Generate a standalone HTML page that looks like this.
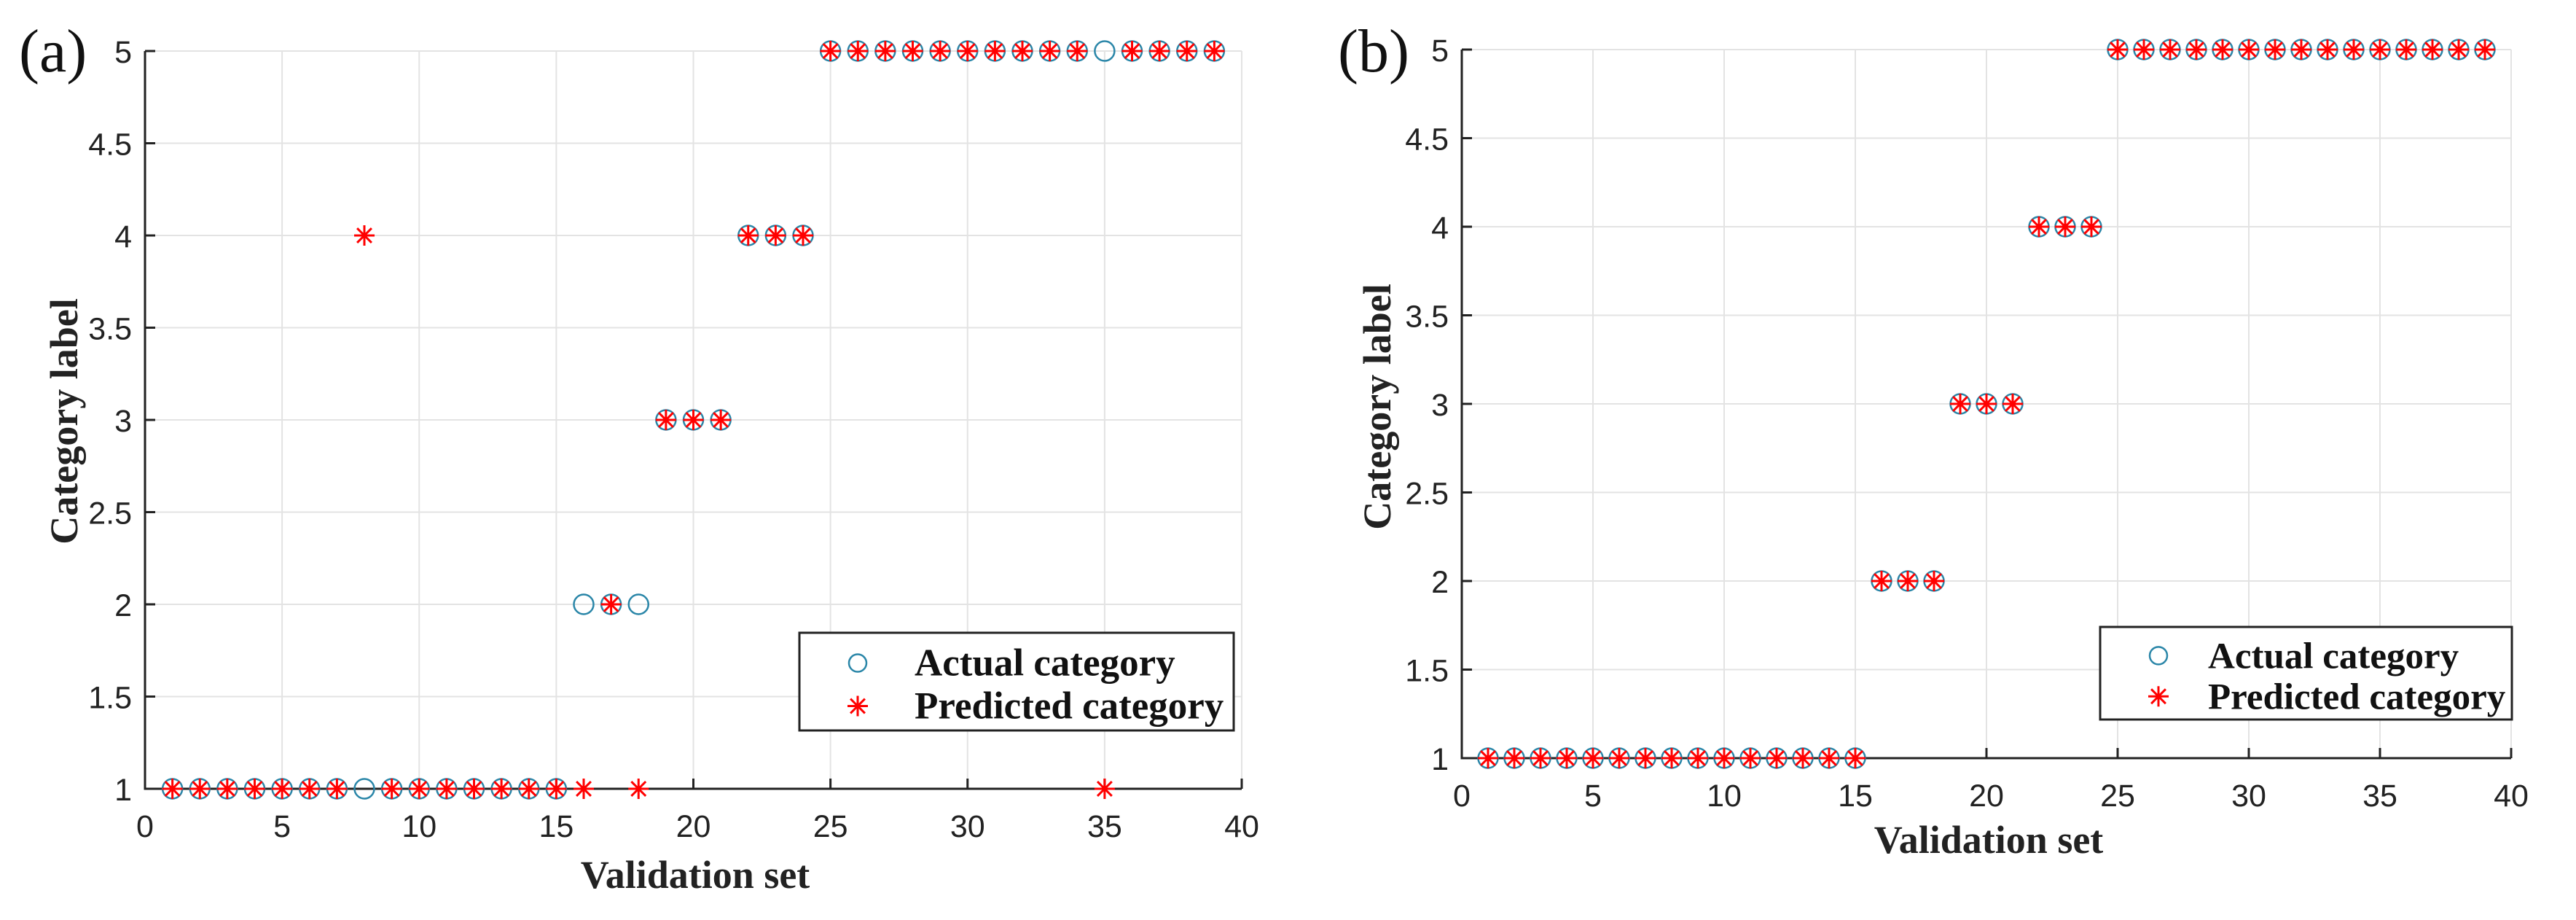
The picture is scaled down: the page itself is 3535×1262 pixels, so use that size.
<!DOCTYPE html>
<html><head><meta charset="utf-8"><style>
html,body{margin:0;padding:0;background:#fff;}
svg{display:block;}
</style></head><body>
<svg id="fig" width="3535" height="1262" viewBox="0 0 3535 1262" xmlns="http://www.w3.org/2000/svg"></svg>
<script>
const categories = [];
for (let i = 1; i <= 39; i++) categories.push(i);
const actualA = [1,1,1,1,1,1,1,1,1,1,1,1,1,1,1,2,2,2,3,3,3,4,4,4,5,5,5,5,5,5,5,5,5,5,5,5,5,5,5];
const predictedA = [1,1,1,1,1,1,1,4,1,1,1,1,1,1,1,1,2,1,3,3,3,4,4,4,5,5,5,5,5,5,5,5,5,5,1,5,5,5,5];
const actualB = [1,1,1,1,1,1,1,1,1,1,1,1,1,1,1,2,2,2,3,3,3,4,4,4,5,5,5,5,5,5,5,5,5,5,5,5,5,5,5];
const predictedB = [1,1,1,1,1,1,1,1,1,1,1,1,1,1,1,2,2,2,3,3,3,4,4,4,5,5,5,5,5,5,5,5,5,5,5,5,5,5,5];
const xTicks = [0,5,10,15,20,25,30,35,40];
const yTicks = [1,1.5,2,2.5,3,3.5,4,4.5,5];
const yTickLabels = ["1","1.5","2","2.5","3","3.5","4","4.5","5"];

const NS = "http://www.w3.org/2000/svg";
const svg = document.getElementById('fig');
function mk(tag, attrs, parent) {
  const e = document.createElementNS(NS, tag);
  for (const k in attrs) e.setAttribute(k, attrs[k]);
  (parent || svg).appendChild(e);
  return e;
}
function star(g, cx, cy, r) {
  for (let a = 0; a < 4; a++) {
    const t = a * Math.PI / 4;
    const l = mk('line', {x1: cx - r*Math.cos(t), y1: cy - r*Math.sin(t), x2: cx + r*Math.cos(t), y2: cy + r*Math.sin(t), stroke: '#ff0000', 'stroke-width': 3}, g);
    
    
  }
}
function panel(opt) {
  const g = mk('g', {});
  
  
  const sx = v => opt.x0 + (v - 0) / 40 * (opt.x1 - opt.x0);
  const sy = v => opt.y1 - (v - 1) / 4 * (opt.y1 - opt.y0);
  xTicks.forEach(t => {
    const l = mk('line', {x1: sx(t), x2: sx(t), y1: opt.y0, y2: opt.y1, stroke: '#e3e3e3', 'stroke-width': 2}, g);
    
    
  });
  yTicks.forEach(t => {
    const l = mk('line', {x1: opt.x0, x2: opt.x1, y1: sy(t), y2: sy(t), stroke: '#e3e3e3', 'stroke-width': 2}, g);
    
    
  });
  const ax = mk('path', {d: `M${opt.x0},${opt.y0} L${opt.x0},${opt.y1} L${opt.x1},${opt.y1}`, fill: 'none', stroke: '#222', 'stroke-width': 3}, g);
  
  
  xTicks.forEach(t => {
    const l = mk('line', {x1: sx(t), x2: sx(t), y1: opt.y1, y2: opt.y1 - 14, stroke: '#222', 'stroke-width': 3}, g);
    
    
    const tx = mk('text', {x: sx(t), y: opt.y1 + 66, 'text-anchor': 'middle', 'font-family': 'Liberation Sans, sans-serif', 'font-size': 43, fill: '#222'}, g);
    tx.textContent = String(t);
    
    
  });
  yTicks.forEach((t, i) => {
    const l = mk('line', {x1: opt.x0, x2: opt.x0 + 14, y1: sy(t), y2: sy(t), stroke: '#222', 'stroke-width': 3}, g);
    
    
    const tx = mk('text', {x: opt.x0 - 18, y: sy(t) + 16, 'text-anchor': 'end', 'font-family': 'Liberation Sans, sans-serif', 'font-size': 43, fill: '#222'}, g);
    tx.textContent = yTickLabels[i];
    
    
  });
  categories.forEach((c, i) => {
    const ci = mk('circle', {cx: sx(c), cy: sy(opt.actual[i]), r: 13.5, fill: 'none', stroke: '#2a86a8', 'stroke-width': 2.5}, g);
    
    
  });
  categories.forEach((c, i) => {
    const sg = mk('g', {}, g);
    
    
    star(sg, sx(c), sy(opt.pred[i]), 14);
  });
  const xl = mk('text', {x: opt.xlx, y: opt.xly, 'text-anchor': 'middle', 'font-family': 'Liberation Serif, serif', 'font-weight': 'bold', 'font-size': 54, fill: '#222'}, g);
  xl.textContent = 'Validation set';
  
  
  const yl = mk('text', {x: 0, y: 0, 'text-anchor': 'middle', 'font-family': 'Liberation Serif, serif', 'font-weight': 'bold', 'font-size': 54, fill: '#222', transform: `translate(${opt.ylx},${opt.yly}) rotate(-90)`}, g);
  yl.textContent = 'Category label';
  
  
  const pl = mk('text', {x: opt.plx, y: 98, 'font-family': 'Liberation Serif, serif', 'font-size': 84, fill: '#111'}, g);
  pl.textContent = opt.panelLabel;
  
  
  const lg = mk('g', {}, g);
  
  
  mk('rect', {x: opt.lx, y: opt.ly, width: opt.lw, height: opt.lh, fill: '#fff', stroke: '#222', 'stroke-width': 3}, lg);
  const r1 = opt.ly + opt.lh * 0.31, r2 = opt.ly + opt.lh * 0.75;
  const lc = mk('circle', {cx: opt.lx + 80, cy: r1, r: 12, fill: 'none', stroke: '#2a86a8', 'stroke-width': 2.5}, lg);
  
  
  star(lg, opt.lx + 80, r2, 14);
  const t1 = mk('text', {x: opt.lx + opt.tx, y: r1 + 17, 'font-family': 'Liberation Serif, serif', 'font-weight': 'bold', 'font-size': opt.lfs, fill: '#111'}, lg);
  t1.textContent = 'Actual category';
  
  
  const t2 = mk('text', {x: opt.lx + opt.tx, y: r2 + 17, 'font-family': 'Liberation Serif, serif', 'font-weight': 'bold', 'font-size': opt.lfs, fill: '#111'}, lg);
  t2.textContent = 'Predicted category';
  
  
}
panel({name: 'panel-a', x0: 199, x1: 1704, y0: 70, y1: 1082, actual: actualA, pred: predictedA,
  xlx: 954, xly: 1218, ylx: 106, yly: 578, plx: 26, panelLabel: '(a)',
  lx: 1097, ly: 868, lw: 596, lh: 134, tx: 158, lfs: 53});
panel({name: 'panel-b', x0: 2006, x1: 3446, y0: 68, y1: 1040, actual: actualB, pred: predictedB,
  xlx: 2729, xly: 1170, ylx: 1908, yly: 558, plx: 1836, panelLabel: '(b)',
  lx: 2882, ly: 860, lw: 565, lh: 127, tx: 148, lfs: 51});
</script>
</body></html>
